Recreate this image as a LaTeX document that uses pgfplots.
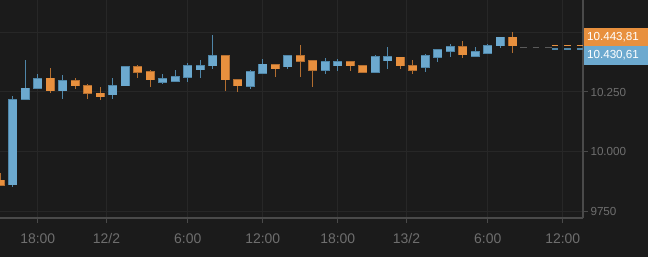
\documentclass[border=0pt]{standalone}
\usepackage{fontspec}
\setmainfont{Liberation Sans}
\usepackage{pgfplots}
\usepackage{pgfplotstable}
\pgfplotsset{compat=1.18}
\definecolor{bg}{HTML}{1B1B1B}
\definecolor{gridc}{HTML}{272727}
\definecolor{axc}{HTML}{4A4A4A}
\definecolor{tickc}{HTML}{6E6E6E}
\definecolor{upc}{HTML}{6CA9CF}
\definecolor{upb}{HTML}{4F86A8}
\definecolor{dnc}{HTML}{E8903E}
\definecolor{dnb}{HTML}{B36E30}
\definecolor{dashg}{HTML}{5A5A5A}

\pgfplotstableread{
t o hi lo c
-2 9862 10234 9853 10217
-1 10219 10383 10218 10266
0 10266 10325 10264 10306
2 10256 10321 10220 10296
6 10239 10309 10220 10275
7 10276 10358 10275 10355
10 10292 10325 10284 10306
11 10296 10341 10295 10313
12 10313 10372 10293 10359
13 10343 10383 10310 10359
14 10360 10489 10346 10401
17 10275 10342 10261 10335
18 10328 10388 10324 10366
20 10355 10401 10346 10401
23 10342 10394 10324 10376
24 10360 10388 10339 10376
27 10333 10405 10330 10397
28 10381 10440 10346 10397
31 10354 10409 10334 10401
32 10395 10430 10376 10427
33 10422 10451 10397 10439
35 10401 10440 10398 10418
36 10412 10451 10411 10443
37 10444 10480 10435 10479
}\up

\pgfplotstableread{
t o hi lo c
-3 9881 9910 9856 9860
1 10307 10350 10247 10256
3 10296 10309 10263 10277
4 10275 10284 10220 10245
5 10245 10272 10218 10230
8 10355 10362 10310 10333
9 10334 10341 10272 10302
15 10401 10402 10256 10302
16 10300 10305 10251 10276
19 10364 10366 10313 10348
21 10401 10447 10313 10380
22 10380 10381 10271 10342
25 10376 10377 10339 10360
26 10359 10360 10330 10333
29 10395 10396 10346 10360
30 10359 10383 10325 10342
34 10439 10462 10392 10406
38 10479 10503 10415 10443.81
}\down

\pgfplotsset{candle/.style={draw=none, mark=none, forget plot,
  error bars/.cd, y dir=both, y explicit, error mark=none}}

\begin{document}
\begin{tikzpicture}
\fill[bg] (0bp,-39bp) rectangle (648bp,218bp);
\useasboundingbox (0bp,-39bp) rectangle (648bp,218bp);
\begin{axis}[
  at={(0bp,0bp)}, anchor=south west,
  scale only axis, width=583bp, height=218bp,
  xmin=-3.016, xmax=43.62, ymin=9722.3, ymax=10635.3,
  axis x line*=bottom, axis y line*=right,
  axis line style={-, draw=axc, line width=1.3bp},
  xtick={0,5.5,12,18,24,29.5,36,42},
  xticklabels={18:00,12/2,6:00,12:00,18:00,13/2,6:00,12:00},
  ytick={9750,10000,10250,10500},
  yticklabels={9750,10.000,10.250,{}},
  grid=major, grid style={draw=gridc, line width=1bp},
  tick align=outside, major tick length=5bp,
  tick style={draw=axc, line width=1bp},
  xticklabel style={font=\fontsize{14}{16}\selectfont, text=tickc, yshift=-7bp},
  yticklabel style={font=\fontsize{11.7}{14}\selectfont, text=tickc, xshift=-1bp},
]
% wicks
\addplot[candle, error bar style={draw=upb, line width=1.4bp}]
  table[x=t, y expr={(\thisrow{hi}+\thisrow{lo})/2}, y error expr={(\thisrow{hi}-\thisrow{lo})/2}] {\up};
\addplot[candle, error bar style={draw=dnb, line width=1.4bp}]
  table[x=t, y expr={(\thisrow{hi}+\thisrow{lo})/2}, y error expr={(\thisrow{hi}-\thisrow{lo})/2}] {\down};
% body borders
\addplot[candle, error bar style={draw=upb, line width=9.4bp}]
  table[x=t, y expr={(\thisrow{o}+\thisrow{c})/2}, y error expr={max(abs(\thisrow{c}-\thisrow{o})/2,2)+2.4}] {\up};
\addplot[candle, error bar style={draw=dnb, line width=9.4bp}]
  table[x=t, y expr={(\thisrow{o}+\thisrow{c})/2}, y error expr={max(abs(\thisrow{c}-\thisrow{o})/2,2)+2.4}] {\down};
% body fills
\addplot[candle, error bar style={draw=upc, line width=8bp}]
  table[x=t, y expr={(\thisrow{o}+\thisrow{c})/2}, y error expr={max(abs(\thisrow{c}-\thisrow{o})/2,2)}] {\up};
\addplot[candle, error bar style={draw=dnc, line width=8bp}]
  table[x=t, y expr={(\thisrow{o}+\thisrow{c})/2}, y error expr={max(abs(\thisrow{c}-\thisrow{o})/2,2)}] {\down};
% price lines
\addplot[dashg, line width=1.3bp, dash pattern=on 6.5bp off 6bp, forget plot] coordinates {(38.6,10437) (41.1,10437)};
\addplot[dnc, line width=1.3bp, dash pattern=on 6.5bp off 6bp, forget plot] coordinates {(41.1,10443.81) (43.62,10443.81)};
\addplot[upb, line width=1.3bp, dash pattern=on 6.5bp off 6bp, forget plot] coordinates {(41.1,10430.61) (43.62,10430.61)};
\end{axis}
\fill[dnc] (583.7bp,172.3bp) rectangle (648bp,189.7bp);
\fill[upc] (583.7bp,152.5bp) rectangle (648bp,172.3bp);
\node[text=white, font=\fontsize{11.7}{14}\selectfont, inner sep=0pt] at (613bp,181bp) {10.443,81};
\node[text=white, font=\fontsize{11.7}{14}\selectfont, inner sep=0pt] at (613bp,162.4bp) {10.430,61};
\end{tikzpicture}
\end{document}
